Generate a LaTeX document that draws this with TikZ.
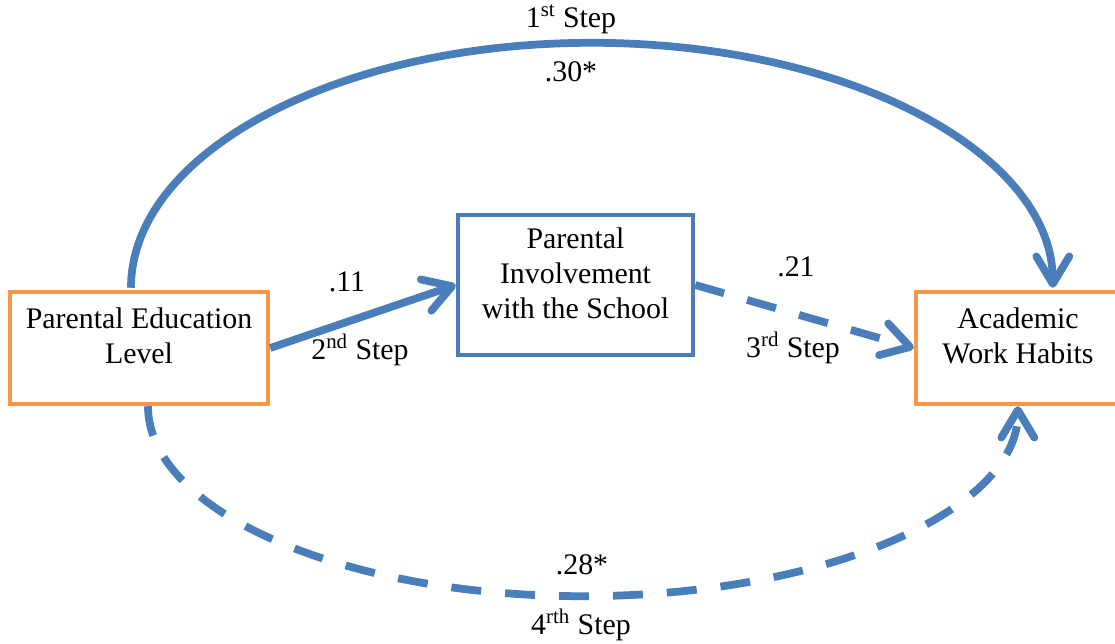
\documentclass[tikz,border=0pt]{standalone}
\usepackage{fontspec}
\setmainfont{Liberation Serif}
\usetikzlibrary{arrows.meta}
\definecolor{borange}{HTML}{F79646}
\definecolor{bblue}{HTML}{4A7EBB}
\begin{document}
\begin{tikzpicture}[x=0.02cm,y=0.02cm,
  every node/.style={font=\fontsize{17pt}{20pt}\selectfont},
  obox/.style={draw=borange, line width=0.09cm, inner sep=0pt},
  bbox/.style={draw=bblue, line width=0.09cm, inner sep=0pt},
  txt/.style={align=center, inner sep=0pt},
  lbl/.style={anchor=base, inner sep=0pt},
  conn/.style={draw=bblue, line width=0.155cm, line cap=butt,
    -{Straight Barb[length=0.55cm,width=0.66cm,round]}},
  dconn/.style={conn, dash pattern=on 0.6cm off 0.48cm}]
\useasboundingbox (0,0) rectangle (1115,644);

% boxes
\node[obox, minimum width=5.16cm, minimum height=2.24cm] (pel) at (139,296) {};
\node[bbox, minimum width=4.7cm, minimum height=2.8cm] (mpi) at (575.5,359) {};
\node[obox, minimum width=4.08cm, minimum height=2.24cm] (awh) at (1018,296) {};

\node[txt] (pelt) at ([yshift=0.24cm]pel.center) {Parental Education\\Level};
\node[txt] (mpit) at ([yshift=0.24cm]mpi.center) {Parental\\Involvement\\with the School};
\node[txt] (awht) at ([yshift=0.24cm]awh.center) {Academic\\Work Habits};

% connectors
\draw[conn] ([xshift=-0.16cm,yshift=0.04cm]pel.north)
  arc[start angle=180, end angle=0, x radius=9.22cm, y radius=4.9cm];
\draw[conn] (pel.east) -- (mpi.west);
\draw[dconn] (mpi.east) -- (awh.west);
\draw[dconn] ([xshift=0.18cm]pel.south)
  arc[start angle=180, end angle=360, x radius=8.7cm, y radius=3.8cm];

% labels
\node[lbl] (l1) at (571,616) {1\textsuperscript{st} Step};
\node[lbl] (v1) at (571,562) {.30*};
\node[lbl] (v2) at (347,352) {.11};
\node[lbl] (l2) at (360,284) {2\textsuperscript{nd} Step};
\node[lbl] (v3) at (796,367) {.21};
\node[lbl] (l3) at (793,286) {3\textsuperscript{rd} Step};
\node[lbl] (v4) at (582,69) {.28*};
\node[lbl] (l4) at (581,9) {4\textsuperscript{rth} Step};
\end{tikzpicture}
\end{document}
